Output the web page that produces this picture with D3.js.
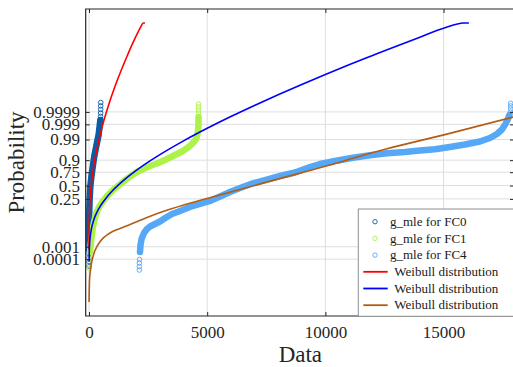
<!DOCTYPE html>
<html>
<head>
<meta charset="utf-8">
<script src="https://cdn.jsdelivr.net/npm/d3@7"></script>
<style>
  html, body { margin: 0; padding: 0; background: #fff; }
  svg { display: block; font-family: "Liberation Serif", "Times New Roman", serif; }
  svg text { font-family: "Liberation Serif", "Times New Roman", serif; }
</style>
</head>
<body>
<svg id="chart" width="513" height="367"></svg>
<script>
// ---- sample quantiles (Data) with their plotting positions (Probability) ----
const fc0Data = [0, 0, 1, 1, 2, 3, 4, 6, 13, 25, 47, 63, 85, 110, 140, 169, 199, 233, 275, 317,
  360, 406, 431, 457, 478, 490, 492, 494, 495, 496];
const fc0Prob = [2.42e-5, 5.65e-5, 1.27e-4, 2.73e-4, 5.67e-4, 0.00298, 0.01239, 0.04093, 0.10842, 0.2327,
  0.41099, 0.51117, 0.61026, 0.70298, 0.78378, 0.85036, 0.90147, 0.93858, 0.96367, 0.97972,
  0.9893, 0.99466, 0.99749, 0.99889, 0.999535, 0.999756, 0.999876, 0.999939, 0.999971, 0.9999863];

const fc1Data = [15, 18, 21, 42, 72, 106, 148, 212, 296, 423, 592, 761, 973, 1227, 1481, 1734, 1988,
  2242, 2580, 2919, 3257, 3595, 3934, 4188, 4399, 4526, 4590, 4623, 4632, 4634, 4634, 4635, 4635, 4636];
const fc1Prob = [1.46e-5, 4.3e-5, 1.19e-4, 3.95e-4, 0.00134, 0.00404, 0.01239, 0.0328, 0.0747, 0.1383,
  0.2162, 0.297, 0.3897, 0.4908, 0.591, 0.6726, 0.7451, 0.7913, 0.8383, 0.8726, 0.9059, 0.9355,
  0.9573, 0.9727, 0.98419, 0.99064, 0.99539, 0.99817, 0.99934, 0.999732, 0.999876, 0.999932,
  0.999964, 0.999981];

const fc4Data = [2128, 2128, 2128, 2136, 2157, 2178, 2229, 2327, 2453, 2580, 2792, 3003, 3257, 3511,
  3849, 4272, 4695, 5118, 5541, 5964, 6387, 6937, 7445, 8079, 8714, 9348, 9771, 10406, 11167, 11886,
  12605, 13367, 14001, 14636, 15270, 15905, 16539, 16962, 17258, 17470, 17618, 17724, 17787, 17829,
  17838, 17838, 17838];
const fc4Prob = [1.0e-5, 2.17e-5, 4.58e-5, 9.4e-5, 3.95e-4, 0.00134, 0.00375, 0.00829, 0.01412, 0.01932,
  0.02607, 0.03469, 0.05328, 0.07537, 0.0994, 0.1394, 0.1757, 0.2177, 0.2901, 0.3722, 0.4507, 0.5453,
  0.6103, 0.6851, 0.7451, 0.8256, 0.8617, 0.8925, 0.9203, 0.9367, 0.9483, 0.9549, 0.9616, 0.9664,
  0.9742, 0.9809, 0.98696, 0.99185, 0.99539, 0.99768, 0.99906, 0.99961, 0.999817, 0.999898,
  0.999945, 0.999971, 0.9999837];

// ---- fitted Weibull distribution curves ----
const weibull0X = [0.3, 1, 5, 15, 40, 80, 150, 250, 400, 600, 850, 1200, 1600, 2000, 2200, 2290, 2370];
const weibull0P = [5.9e-4, 0.00262, 0.01897, 0.0718, 0.2217, 0.4457, 0.7234, 0.9106, 0.98667, 0.9992,
  0.9999828, 0.99999995, 0.999999999962, 0.999999999999981, 0.9999999999999996,
  0.9999999999999999, 0.9999999999999999];

const weibull1X = [3, 10, 25, 50, 100, 200, 350, 500, 750, 1000, 1500, 2000, 2500, 3000, 4000, 5000,
  6000, 7000, 8000, 9000, 10000, 11000, 12000, 13000, 14000, 15000, 15850, 16070];
const weibull1P = [6.07e-5, 3.95e-4, 0.00164, 0.00482, 0.01411, 0.0409, 0.0951, 0.1597, 0.2788, 0.4003,
  0.6175, 0.7776, 0.8809, 0.9407, 0.98797, 0.99808, 0.999754, 0.999974, 0.99999773, 0.999999834,
  0.9999999897, 0.99999999946, 0.999999999975, 0.99999999999904, 0.999999999999967,
  0.999999999999999, 0.9999999999999999, 0.9999999999999999];

const weibull4X = [2, 21, 55, 106, 169, 254, 360, 486, 677, 888, 1311, 1734, 2453, 3130, 3976, 4991,
  6387, 7360, 8925, 10194, 11167, 12605, 14974, 17978];
const weibull4P = [2.04e-9, 7.1e-7, 7.9e-6, 4.58e-5, 1.7e-4, 5.19e-4, 0.00123, 0.00255, 0.00504,
  0.00829, 0.01504, 0.02459, 0.05328, 0.0949, 0.1606, 0.2566, 0.4231, 0.5493, 0.7353, 0.8504, 0.9164,
  0.9683, 0.99458, 0.999742];

// ---- axes ----
const xTicks = [0, 5000, 10000, 15000];
const yTickProbs = [0.0001, 0.001, 0.25, 0.5, 0.75, 0.9, 0.99, 0.999, 0.9999];
const yTickLabels = ["0.0001", "0.001", "0.25", "0.5", "0.75", "0.9", "0.99", "0.999", "0.9999"];
const legendLabels = ["g_mle for FC0", "g_mle for FC1", "g_mle for FC4",
  "Weibull distribution", "Weibull distribution", "Weibull distribution"];

// inverse of the standard normal CDF (Acklam's rational approximation)
function probit(p) {
  const a = [-3.969683028665376e+01, 2.209460984245205e+02, -2.759285104469687e+02,
    1.383577518672690e+02, -3.066479806614716e+01, 2.506628277459239e+00];
  const b = [-5.447609879822406e+01, 1.615858368580409e+02, -1.556989798598866e+02,
    6.680131188771972e+01, -1.328068155288572e+01];
  const c = [-7.784894002430293e-03, -3.223964580411365e-01, -2.400758277161838e+00,
    -2.549732539343734e+00, 4.374664141464968e+00, 2.938163982698783e+00];
  const d = [7.784695709041462e-03, 3.224671290700398e-01, 2.445134137142996e+00,
    3.754408661907416e+00];
  const plow = 0.02425, phigh = 1 - plow;
  let q, r;
  if (p < plow) {
    q = Math.sqrt(-2 * Math.log(p));
    return (((((c[0]*q+c[1])*q+c[2])*q+c[3])*q+c[4])*q+c[5]) / ((((d[0]*q+d[1])*q+d[2])*q+d[3])*q+1);
  }
  if (p <= phigh) {
    q = p - 0.5; r = q * q;
    return (((((a[0]*r+a[1])*r+a[2])*r+a[3])*r+a[4])*r+a[5])*q /
      (((((b[0]*r+b[1])*r+b[2])*r+b[3])*r+b[4])*r+1);
  }
  q = Math.sqrt(-2 * Math.log(1 - p));
  return -(((((c[0]*q+c[1])*q+c[2])*q+c[3])*q+c[4])*q+c[5]) / ((((d[0]*q+d[1])*q+d[2])*q+d[3])*q+1);
}

const plot = { left: 85.7, right: 514, top: 9, bottom: 316 };
const ink = "#262626";
const serif = '"Liberation Serif", "Times New Roman", serif';

const x = d3.scaleLinear().domain([-140, 17980]).range([plot.left, plot.right]);
// normal-probability axis: linear in the standard normal score
const zScale = d3.scaleLinear().domain([-6.588, 8.917]).range([plot.bottom, plot.top]);
const y = p => zScale(probit(p));

const svg = d3.select("#chart");

svg.append("defs").append("clipPath").attr("id", "plot-clip")
  .append("rect")
  .attr("x", plot.left).attr("y", plot.top)
  .attr("width", plot.right - plot.left).attr("height", plot.bottom - plot.top);

// grid
const grid = svg.append("g").attr("stroke", "#dedede").attr("stroke-width", 1);
grid.selectAll(".gx").data(xTicks).join("line")
  .attr("x1", d => x(d)).attr("x2", d => x(d))
  .attr("y1", plot.top).attr("y2", plot.bottom);
grid.selectAll(".gy").data(yTickProbs).join("line")
  .attr("x1", plot.left).attr("x2", plot.right)
  .attr("y1", d => y(d)).attr("y2", d => y(d));

const dataLayer = svg.append("g").attr("clip-path", "url(#plot-clip)");

// empirical samples: dense runs overlap into a solid band, sparse tails show as open rings
const sampleSeries = [
  { data: fc0Data, prob: fc0Prob, color: "#0b5ca6", tailLow: 4, tailHigh: 5 },
  { data: fc1Data, prob: fc1Prob, color: "#adf24a", tailLow: 3, tailHigh: 4 },
  { data: fc4Data, prob: fc4Prob, color: "#56a8f7", tailLow: 4, tailHigh: 4 }
];

sampleSeries.forEach(s => {
  const pts = s.data.map((v, i) => [x(v), y(s.prob[i])]);
  const band = pts.slice(s.tailLow, pts.length - s.tailHigh);
  dataLayer.append("path")
    .attr("d", d3.line()(band))
    .attr("fill", "none")
    .attr("stroke", s.color)
    .attr("stroke-width", 6.5)
    .attr("stroke-linecap", "round")
    .attr("stroke-linejoin", "round");
  dataLayer.append("g").selectAll("circle").data(pts).join("circle")
    .attr("cx", d => d[0]).attr("cy", d => d[1]).attr("r", 2.3)
    .attr("fill", "none").attr("stroke", s.color).attr("stroke-width", 0.9);
});

const curveSeries = [
  { xs: weibull0X, ps: weibull0P, color: "#ff0000" },
  { xs: weibull1X, ps: weibull1P, color: "#0000ff" },
  { xs: weibull4X, ps: weibull4P, color: "#b35c12" }
];
const curveLine = d3.line().x(d => x(d[0])).y(d => y(d[1])).curve(d3.curveMonotoneX);
curveSeries.forEach(c => {
  dataLayer.append("path")
    .attr("d", curveLine(c.xs.map((v, i) => [v, c.ps[i]])))
    .attr("fill", "none")
    .attr("stroke", c.color)
    .attr("stroke-width", 1.6);
});

// axes
const yTickZ = yTickProbs.map(probit);
function styleAxis(g, withText) {
  g.attr("font-family", serif);
  g.select(".domain").remove();
  g.selectAll(".tick line").attr("stroke", ink).attr("stroke-width", 1);
  g.selectAll(".tick text").attr("fill", ink)
    .attr("font-family", serif)
    .style("font-family", serif)
    .style("font-size", "17px");
  if (!withText) g.selectAll(".tick text").remove();
}
svg.append("g").attr("transform", `translate(${plot.left},0)`)
  .call(d3.axisLeft(zScale).tickValues(yTickZ).tickFormat((d, i) => yTickLabels[i])
    .tickSizeInner(-4).tickSizeOuter(0).tickPadding(5.7))
  .call(g => styleAxis(g, true));
svg.append("g").attr("transform", `translate(${plot.right},0)`)
  .call(d3.axisRight(zScale).tickValues(yTickZ).tickSizeInner(-4).tickSizeOuter(0))
  .call(g => styleAxis(g, false));
svg.append("g").attr("transform", `translate(0,${plot.bottom})`)
  .call(d3.axisBottom(x).tickValues(xTicks).tickFormat(d3.format("d"))
    .tickSizeInner(-4).tickSizeOuter(0).tickPadding(10))
  .call(g => styleAxis(g, true));
svg.append("g").attr("transform", `translate(0,${plot.top})`)
  .call(d3.axisTop(x).tickValues(xTicks).tickSizeInner(-4).tickSizeOuter(0))
  .call(g => styleAxis(g, false));

// frame
svg.append("path")
  .attr("d", `M${plot.left},${plot.top}H${plot.right}V${plot.bottom}H${plot.left}Z`)
  .attr("fill", "none").attr("stroke", ink).attr("stroke-width", 1.2);

// axis titles
svg.append("text")
  .attr("x", (plot.left + plot.right) / 2 + 0.5).attr("y", 362)
  .attr("text-anchor", "middle").attr("fill", ink).attr("font-family", serif)
  .style("font-size", "23px").text("Data");
svg.append("text")
  .attr("transform", `translate(23.5,${(plot.top + plot.bottom) / 2}) rotate(-90)`)
  .attr("text-anchor", "middle").attr("fill", ink).attr("font-family", serif)
  .style("font-size", "23px").text("Probability");

// legend
const legend = svg.append("g");
legend.append("rect")
  .attr("x", 358.3).attr("y", 209).attr("width", 170).attr("height", 107.3)
  .attr("fill", "#fff").attr("stroke", "#8f8f8f").attr("stroke-width", 1);
const legendColors = sampleSeries.map(s => s.color).concat(curveSeries.map(c => c.color));
legendLabels.forEach((label, i) => {
  const cy = 221.7 + i * 16.7;
  const row = legend.append("g");
  if (i < 3) {
    row.append("circle").attr("cx", 375).attr("cy", cy).attr("r", 2.2)
      .attr("fill", "none").attr("stroke", legendColors[i]).attr("stroke-width", 0.9);
  } else {
    row.append("line").attr("x1", 363.3).attr("x2", 387.7).attr("y1", cy).attr("y2", cy)
      .attr("stroke", legendColors[i]).attr("stroke-width", 1.8);
  }
  row.append("text")
    .attr("x", i < 3 ? 390 : 394.3).attr("y", cy).attr("dy", "0.33em")
    .attr("fill", "#1a1a1a").attr("font-family", serif)
    .style("font-size", "13px").text(label);
});
</script>
</body>
</html>
